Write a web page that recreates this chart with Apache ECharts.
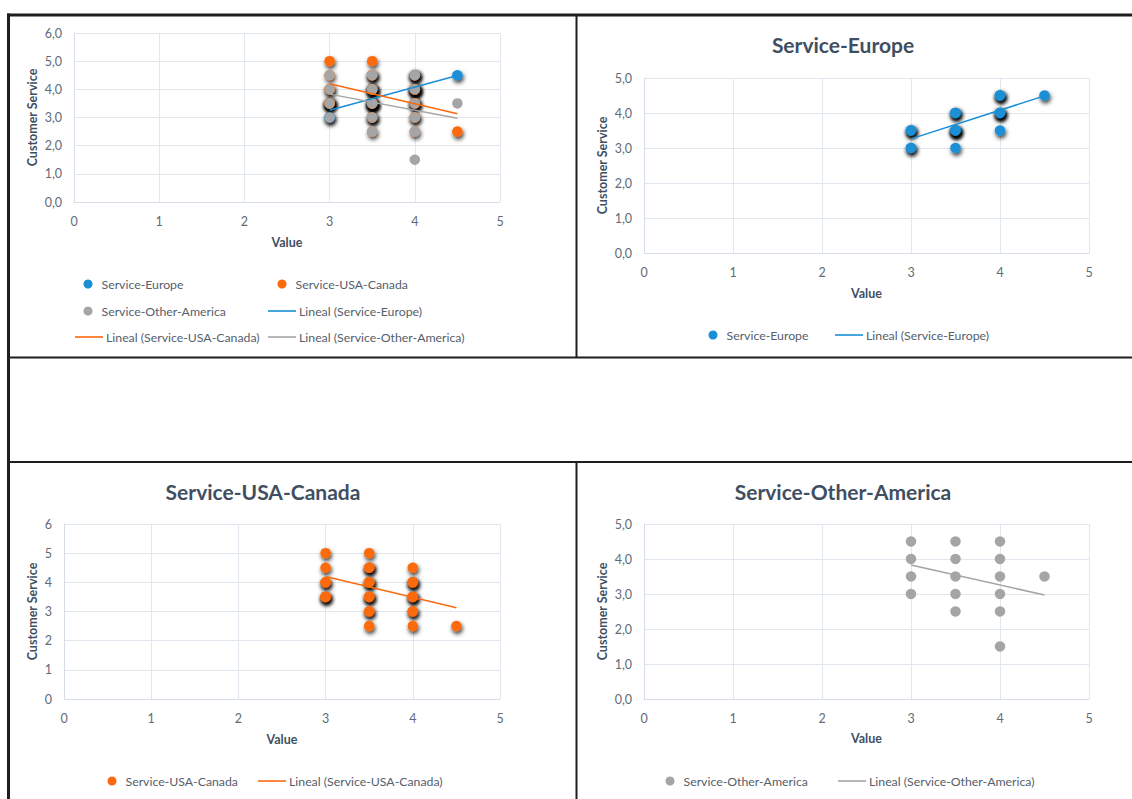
<!DOCTYPE html>
<html><head><meta charset="utf-8">
<script src="https://cdn.jsdelivr.net/npm/echarts@6/dist/echarts.min.js"></script>
<style>html,body{margin:0;padding:0;background:#fff}#c{width:1132px;height:799px}</style>
</head><body><div id="c"></div>
<script>
// ---------- data ----------
const seriesNames = ['Service-Europe', 'Service-USA-Canada', 'Service-Other-America'];
const trendNames = ['Lineal (Service-Europe)', 'Lineal (Service-USA-Canada)', 'Lineal (Service-Other-America)'];
const panelTitles = ['', 'Service-Europe', 'Service-USA-Canada', 'Service-Other-America'];
const xAxisTitle = 'Value';
const yAxisTitle = 'Customer Service';

// [Value, Customer Service] (repeated pairs are overlapping responses)
const europePoints = [
  [3, 3.5], [3, 3.5], [3, 3.5], [3, 3.0], [3, 3.0],
  [3.5, 4.0], [3.5, 4.0], [3.5, 4.0], [3.5, 3.5], [3.5, 3.5], [3.5, 3.5], [3.5, 3.5], [3.5, 3.5], [3.5, 3.0],
  [4, 4.5], [4, 4.5], [4, 4.5], [4, 4.0], [4, 4.0], [4, 4.0], [4, 4.0], [4, 3.5],
  [4.5, 4.5]
];
const usaCanadaPoints = [
  [3, 5.0], [3, 4.5], [3, 4.0], [3, 4.0], [3, 3.5], [3, 3.5], [3, 3.5],
  [3.5, 5.0], [3.5, 4.5], [3.5, 4.5], [3.5, 4.5], [3.5, 4.0], [3.5, 4.0], [3.5, 4.0],
  [3.5, 3.5], [3.5, 3.5], [3.5, 3.5], [3.5, 3.0], [3.5, 3.0], [3.5, 2.5],
  [4, 4.5], [4, 4.0], [4, 4.0], [4, 4.0], [4, 3.5], [4, 3.5], [4, 3.5], [4, 3.0], [4, 3.0], [4, 2.5],
  [4.5, 2.5]
];
const otherAmericaPoints = [
  [3, 4.5], [3, 4.0], [3, 3.5], [3, 3.0],
  [3.5, 4.5], [3.5, 4.0], [3.5, 3.5], [3.5, 3.0], [3.5, 2.5],
  [4, 4.5], [4, 4.0], [4, 3.5], [4, 3.0], [4, 2.5], [4, 1.5],
  [4.5, 3.5]
];
// linear trend lines, endpoints
const europeTrend = [[3, 3.26], [4.5, 4.49]];
const usaCanadaTrend = [[3, 4.2], [4.5, 3.13]];
const otherAmericaTrend = [[3, 3.83], [4.5, 2.97]];

// axis ranges / ticks per panel
const xRange = [0, 5];
const xStep = [1];
const yMaxByPanel = [6, 5, 6, 5];
const yDecimalsByPanel = [1, 1, 0, 1];

// ---------- style ----------
const FONT = 'Lato, "Open Sans", sans-serif';
const COLORS = ['#1a8fd5', '#fb6a0c', '#a5a5a5'];
const TICK_COLOR = '#5f6b78';
const NAME_COLOR = '#3f4f61';
const GRID_COLOR = '#e1e7ee';
const AXIS_COLOR = '#d5dde7';

const pointsByIdx = [europePoints, usaCanadaPoints, otherAmericaPoints];
const trendByIdx = [europeTrend, usaCanadaTrend, otherAmericaTrend];

// panel layout: grid box, axis name gaps
const panels = [
  {left: 74, top: 33, width: 426, height: 169, xGap: 34, yGap: 35, members: [0, 1, 2]},
  {left: 644, top: 78, width: 445, height: 175, xGap: 34, yGap: 35, members: [0]},
  {left: 64, top: 524, width: 436, height: 175, xGap: 34, yGap: 25, members: [1]},
  {left: 644, top: 524, width: 445, height: 175, xGap: 33, yGap: 35, members: [2]}
];

const grids = [], xAxes = [], yAxes = [], series = [];
panels.forEach((p, i) => {
  grids.push({left: p.left, top: p.top, width: p.width, height: p.height, containLabel: false});
  xAxes.push({
    type: 'value', gridIndex: i, min: xRange[0], max: xRange[1], interval: xStep[0],
    name: xAxisTitle, nameLocation: 'middle', nameGap: p.xGap,
    nameTextStyle: {fontFamily: FONT, fontSize: 12.5, fontWeight: 'bold', color: NAME_COLOR},
    axisLine: {show: true, lineStyle: {color: AXIS_COLOR, width: 1}},
    axisTick: {show: false},
    axisLabel: {margin: 13, color: TICK_COLOR, fontSize: 12.5, fontFamily: FONT},
    splitLine: {show: true, lineStyle: {color: GRID_COLOR, width: 1}}
  });
  const dec = yDecimalsByPanel[i];
  yAxes.push({
    type: 'value', gridIndex: i, min: 0, max: yMaxByPanel[i], interval: 1,
    name: yAxisTitle, nameLocation: 'middle', nameGap: p.yGap,
    nameTextStyle: {fontFamily: FONT, fontSize: 12.5, fontWeight: 'bold', color: NAME_COLOR},
    axisLine: {show: true, lineStyle: {color: AXIS_COLOR, width: 1}},
    axisTick: {show: false},
    axisLabel: {margin: 12, color: TICK_COLOR, fontSize: 12.5, fontFamily: FONT,
      formatter: v => v.toFixed(dec).replace('.', ',')},
    splitLine: {show: true, lineStyle: {color: GRID_COLOR, width: 1}}
  });
  p.members.forEach(k => {
    const shadow = k !== 2;
    series.push({
      type: 'scatter', name: seriesNames[k], xAxisIndex: i, yAxisIndex: i,
      data: pointsByIdx[k], symbolSize: 10.5, z: 2, silent: true, animation: false,
      itemStyle: shadow ? {color: COLORS[k], opacity: 1, shadowBlur: 4, shadowColor: 'rgba(0,0,0,0.8)', shadowOffsetX: 1, shadowOffsetY: 2.5}
                        : {color: COLORS[k], opacity: 1},
      emphasis: {disabled: true}
    });
  });
  p.members.forEach(k => {
    series.push({
      type: 'line', name: trendNames[k], xAxisIndex: i, yAxisIndex: i,
      data: trendByIdx[k], symbol: 'none', showSymbol: false, z: 3, silent: true, animation: false,
      lineStyle: {color: COLORS[k], width: 1.5}, itemStyle: {color: COLORS[k]},
      emphasis: {disabled: true}
    });
  });
});

// legends: [name, x (dot centre for markers, line start for trend lines), centre y, isLine]
const legendSpecs = [
  [seriesNames[0], 88, 284, false], [seriesNames[1], 282, 284, false],
  [seriesNames[2], 88, 311, false], [trendNames[0], 268, 311, true],
  [trendNames[1], 75, 337, true], [trendNames[2], 268, 337, true],
  [seriesNames[0], 713, 335, false], [trendNames[0], 835, 335, true],
  [seriesNames[1], 112, 781, false], [trendNames[1], 258, 781, true],
  [seriesNames[2], 670, 781, false], [trendNames[2], 838, 781, true]
];
const legends = legendSpecs.map(([name, x, cy, isLine]) => ({
  show: true, left: isLine ? x : x - 4.5, top: cy - 7, padding: 0, itemGap: 0,
  itemWidth: isLine ? 28 : 9, itemHeight: isLine ? 1.6 : 9, selectedMode: false,
  data: [{name: name, icon: isLine ? 'rect' : 'circle'}],
  itemStyle: {shadowBlur: 0, shadowColor: 'rgba(0,0,0,0)', shadowOffsetX: 0, shadowOffsetY: 0, borderWidth: 0},
  textStyle: {fontFamily: FONT, fontSize: 12.3, color: '#55606c', lineHeight: 14,
    padding: isLine ? [0, 0, 0, -2] : [0, 0, 0, 4]}
}));

const titleCenters = [null, [843, 44], [263, 491], [843, 491]];
const titles = [];
panelTitles.forEach((t, i) => {
  if (!t) return;
  titles.push({
    text: t, left: titleCenters[i][0], top: titleCenters[i][1] - 12, textAlign: 'center', padding: 0,
    textStyle: {fontFamily: FONT, fontSize: 21, fontWeight: 'bold', color: NAME_COLOR, lineHeight: 24}
  });
});

// panel frame lines
const frame = [
  {x: 7, y: 13.5, w: 1125, h: 3},
  {x: 7, y: 13.5, w: 3, h: 786},
  {x: 8, y: 356.5, w: 1124, h: 2},
  {x: 8, y: 461, w: 1124, h: 2},
  {x: 575.5, y: 15, w: 2, h: 342},
  {x: 575.5, y: 462, w: 2, h: 337}
];
const graphic = frame.map(f => ({
  type: 'rect', silent: true, z: 10,
  shape: {x: f.x, y: f.y, width: f.w, height: f.h},
  style: {fill: '#1e1e1e'}
}));

const chart = echarts.init(document.getElementById('c'), null, {renderer: 'svg', width: 1132, height: 799});
chart.setOption({
  backgroundColor: '#ffffff',
  animation: false,
  title: titles,
  grid: grids, xAxis: xAxes, yAxis: yAxes,
  legend: legends,
  series: series,
  graphic: graphic
});
</script>
</body></html>
